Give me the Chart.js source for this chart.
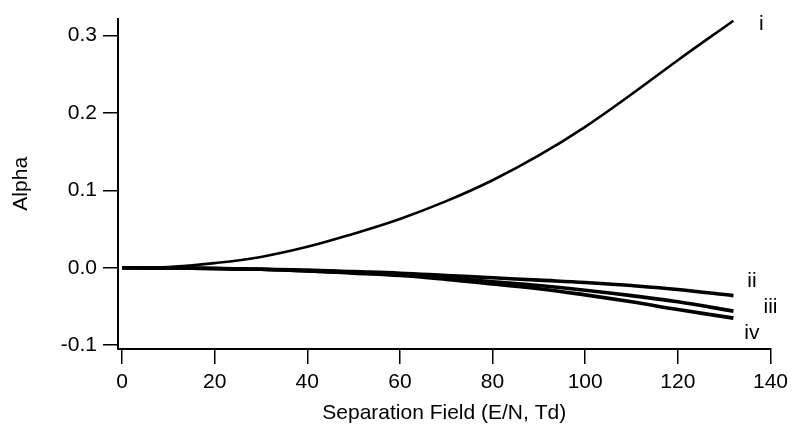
<!DOCTYPE html>
<html lang="en">
<head>
  <meta charset="UTF-8">
  <title>Alpha vs Separation Field</title>
  <script src="https://cdn.jsdelivr.net/npm/chart.js"></script>
  <style>
    body {
      margin: 0;
      padding: 0;
      background: white;
    }
    .wrap {
      width: 794px;
      height: 426px;
    }
  </style>
</head>
<body>
  <div class="wrap">
    <canvas id="myChart" width="794" height="426"></canvas>
  </div>

  <script>
    // separation field E/N (Td)
    const field = [0, 10, 20, 30, 40, 50, 60, 70, 80, 90, 100, 110, 120, 132];
    // alpha curves
    const alphaI   = [0, 0.001, 0.006, 0.014, 0.027, 0.044, 0.063, 0.086, 0.113, 0.145, 0.182, 0.224, 0.268, 0.319];
    const alphaII  = [0, -0.0003, -0.001, -0.002, -0.003, -0.005, -0.007, -0.010, -0.013, -0.016, -0.019, -0.023, -0.028, -0.036];
    const alphaIII = [0, -0.0003, -0.001, -0.002, -0.004, -0.006, -0.009, -0.013, -0.018, -0.023, -0.029, -0.036, -0.044, -0.056];
    const alphaIV  = [0, -0.0003, -0.001, -0.002, -0.004, -0.007, -0.010, -0.015, -0.021, -0.027, -0.035, -0.044, -0.054, -0.065];

    const xTicks = [0, 20, 40, 60, 80, 100, 120, 140];
    const yTicks = [-0.1, 0.0, 0.1, 0.2, 0.3];

    const curveNames = ['i', 'ii', 'iii', 'iv'];
    const nameX = [138, 136, 140, 136];
    const nameY = [0.315, -0.017, -0.051, -0.084];

    const FONT = { family: '"Liberation Sans", Arial, sans-serif', size: 21 };

    function pts(ys) {
      return field.map((x, i) => ({ x: x, y: ys[i] }));
    }

    const curveLabels = {
      id: 'curveLabels',
      afterDatasetsDraw(chart) {
        const c = chart.ctx;
        const xs = chart.scales.x, ys = chart.scales.y;
        c.save();
        c.fillStyle = '#000';
        c.font = '21px "Liberation Sans", Arial, sans-serif';
        c.textAlign = 'center';
        c.textBaseline = 'middle';
        curveNames.forEach((n, i) => {
          c.fillText(n, xs.getPixelForValue(nameX[i]), ys.getPixelForValue(nameY[i]));
        });
        c.restore();
      }
    };

    const lineDs = (data, w) => ({
      data: pts(data),
      borderColor: '#000',
      borderWidth: w,
      pointRadius: 0,
      fill: false,
      tension: 0.4
    });

    const ctx = document.getElementById('myChart').getContext('2d');

    new Chart(ctx, {
      type: 'line',
      data: {
        datasets: [
          lineDs(alphaI, 2.6),
          lineDs(alphaII, 3.6),
          lineDs(alphaIII, 3.6),
          lineDs(alphaIV, 3.6)
        ]
      },
      options: {
        responsive: false,
        animation: false,
        layout: { padding: { top: 15, right: 18, left: 0, bottom: 0 } },
        plugins: {
          legend: { display: false },
          tooltip: { enabled: false }
        },
        scales: {
          x: {
            type: 'linear',
            min: -0.86,
            max: 140,
            afterBuildTicks: s => { s.ticks = xTicks.map(v => ({ value: v })); },
            afterFit: s => { s.height = 77; },
            ticks: { color: '#000', font: FONT, padding: 6, maxRotation: 0, autoSkip: false },
            grid: { display: true, drawOnChartArea: false, drawTicks: true, tickLength: 15, color: '#000', lineWidth: 1.5 },
            border: { display: true, color: '#000', width: 2 },
            title: { display: true, text: 'Separation Field (E/N, Td)', color: '#000', font: FONT, padding: { top: 0, bottom: 0 } }
          },
          y: {
            min: -0.1049,
            max: 0.3217,
            afterBuildTicks: s => { s.ticks = yTicks.map(v => ({ value: v })); },
            afterFit: s => { s.width = 118; },
            ticks: { color: '#000', font: FONT, padding: 6, callback: v => v.toFixed(1) },
            grid: { display: true, drawOnChartArea: false, drawTicks: true, tickLength: 15, color: '#000', lineWidth: 1.5 },
            border: { display: true, color: '#000', width: 2 },
            title: { display: true, text: 'Alpha', color: '#000', font: FONT, padding: { top: 9, bottom: 0 } }
          }
        }
      },
      plugins: [curveLabels]
    });
  </script>
</body>
</html>
